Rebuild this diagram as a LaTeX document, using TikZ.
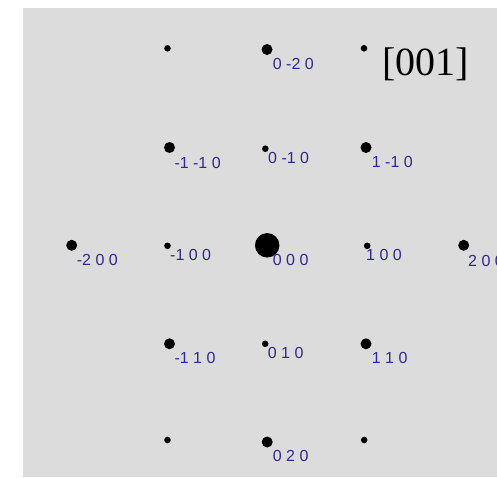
\documentclass[tikz,border=0pt]{standalone}
\usepackage{fontspec}
\setmainfont{Liberation Serif}
\setsansfont{Liberation Sans}
\definecolor{bggray}{RGB}{220,220,220}
\definecolor{lblblue}{RGB}{48,40,145}
\tikzset{
  spotbig/.style={circle,fill=black,inner sep=0pt,minimum size=24.5pt},
  spotmed/.style={circle,fill=black,inner sep=0pt,minimum size=11pt},
  spotsmall/.style={circle,fill=black,inner sep=0pt,minimum size=6.6pt},
  idx/.style={anchor=west,inner sep=0pt,text=lblblue,font=\sffamily\fontsize{16}{16}\selectfont},
}
\begin{document}
\begin{tikzpicture}[x=1pt,y=-1pt]
\useasboundingbox (0,0) rectangle (497,477);
\fill[bggray] (23,8) rectangle (497,477);
% row 1
\node[spotsmall] (s1) at (167.5,48.3) {};
\node[spotmed] (s020m) at (267,49.5) {};
\node[spotsmall] (s2) at (364,48.3) {};
% row 2
\node[spotmed] (sm1m10) at (169.5,147.5) {};
\node[spotsmall] (s0m10) at (265.3,148.7) {};
\node[spotmed] (s1m10) at (366,147.5) {};
% row 3
\node[spotmed] (sm200) at (71.7,245.3) {};
\node[spotsmall] (sm100) at (167.5,245.8) {};
\node[spotbig] (s000) at (267.2,245.3) {};
\node[spotsmall] (s100) at (367.2,245.8) {};
\node[spotmed] (s200) at (463.7,245.3) {};
% row 4
\node[spotmed] (sm110) at (169.5,343.8) {};
\node[spotsmall] (s010) at (265.2,343.8) {};
\node[spotmed] (s110) at (366,343.8) {};
% row 5
\node[spotsmall] (s3) at (167.5,440) {};
\node[spotmed] (s020) at (267.2,442) {};
\node[spotsmall] (s4) at (364.2,440) {};
% labels
\node[idx] (l0m20) at (272.7,64) {0 -2 0};
\node[idx] (lm1m10) at (174.3,162.5) {-1 -1 0};
\node[idx] (l0m10) at (268,157.5) {0 -1 0};
\node[idx] (l1m10) at (371.7,162) {1 -1 0};
\node[idx] (lm200) at (76.7,260) {-2 0 0};
\node[idx] (lm100) at (170,255) {-1 0 0};
\node[idx] (l000) at (272.7,260) {0 0 0};
\node[idx] (l100) at (366,255) {1 0 0};
\node[idx] (l200) at (468,260.5) {2 0 0};
\node[idx] (lm110) at (174.3,358) {-1 1 0};
\node[idx] (l010) at (267.7,353) {0 1 0};
\node[idx] (l110) at (371.7,358) {1 1 0};
\node[idx] (l020) at (272.7,456) {0 2 0};
% zone axis
\node[anchor=west,inner sep=0pt,font=\fontsize{40}{40}\selectfont] (zone) at (382,64) {[001]};
\end{tikzpicture}
\end{document}
